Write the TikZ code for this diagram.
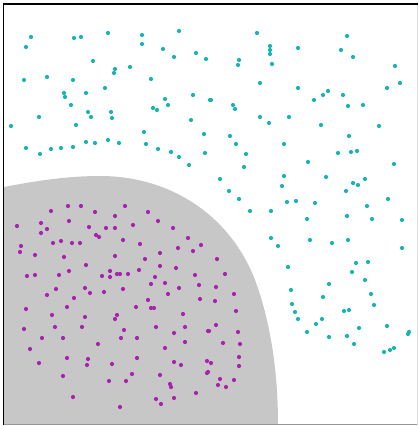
\documentclass[tikz,border=0pt]{standalone}
\usepackage{tikz}
\definecolor{regiongray}{RGB}{199,199,199}
\definecolor{cyandot}{RGB}{25,180,180}
\definecolor{magdot}{RGB}{170,35,175}
\definecolor{edgegray}{RGB}{150,150,150}
\tikzset{
  cdot/.style={fill=cyandot},
  mdot/.style={fill=magdot},
  framel/.style={draw=black,line width=1.5pt},
  frameg/.style={draw=edgegray,line width=1.2pt}
}
\begin{document}
\begin{tikzpicture}[x=1pt,y=-1pt]
\useasboundingbox (0,0) rectangle (418,426);
\fill[white] (0,0) rectangle (418,426);
% gray region
\fill[regiongray] (4,424) -- (4,187) .. controls (40,180) and (70,176) .. (100,176)
  .. controls (170,176) and (230,215) .. (255,280)
  .. controls (270,320) and (278,370) .. (278,424) -- cycle;
% cyan dots
\foreach \x/\y in {31/37,26/47,74/38,81/37,108/33,142/35,142/44,179/31,163/49,174/57,196/53,206/59,
93/61,115/69,114/73,130/67,24/80,47/77,73/80,151/79,105/88,64/93,65/97,86/93,71/105,88/112,91/117,
111/112,112/118,165/99,168/105,153/108,157/110,193/95,210/100,39/117,11/126,76/125,191/120,144/132,
204/134,26/148,40/154,51/149,61/148,73/147,86/142,95/143,108/140,119/143,146/144,158/149,171/152,
179/157,189/165,205/153,
257/33,347/36,270/46,270/50,270/54,298/48,341/50,353/57,239/60,238/65,272/64,395/66,260/83,298/88,
387/88,400/83,211/100,233/105,235/109,314/100,323/95,328/91,343/95,348/106,363/105,260/117,269/123,
289/117,321/125,379/126,230/136,236/144,284/144,349/136,246/154,338/153,351/152,357/151,244/167,
308/162,394/164,220/179,284/176,282/186,326/177,353/183,358/185,365/179,229/191,346/191,239/199,
287/202,296/201,315/203,367/206,388/199,250/211,271/211,
307/219,347/216,372/219,402/220,271/238,278/246,310/240,332/243,348/240,402/248,288/267,356/263,
368/262,352/272,365/280,329/284,291/290,371/294,323/297,292/304,374/305,295/312,344/311,349/310,
298/319,322/319,316/324,359/328,387/326,307/332,329/337,347/336,354/344,408/334,409/332,384/352,
390/350,394/348}
  \fill[cdot] (\x,\y) circle (2.1);
% magenta dots
\foreach \x/\y in {51/211,68/206,81/206,95/212,125/206,148/212,
17/226,41/223,47/229,41/233,69/221,89/227,106/228,115/228,115/216,133/225,158/221,173/228,96/235,
99/237,53/243,61/241,72/243,80/243,123/240,140/244,188/238,201/245,21/246,20/252,35/255,64/257,
115/256,145/259,160/253,178/248,193/251,86/265,160/266,176/268,69/271,110/271,117/274,120/274,
128/274,139/270,27/276,35/275,59/275,102/276,110/277,155/277,195/275,151/284,165/283,199/285,
56/289,85/288,90/293,104/292,123/289,179/288,47/295,168/294,74/298,148/300,200/299,26/309,67/307,
136/307,151/308,154/308,52/315,117/315,115/319,85/317,183/314,24/329,55/327,82/327,124/330,
156/327,185/327,208/331,174/333,42/338,63/338,121/338,137/338,185/342,98/344,30/349,165/348,
67/358,88/359,137/358,39/363,87/365,112/364,174/362,181/365,207/361,63/376,132/374,160/375,
207/373,109/381,126/381,170/384,171/387,196/393,174/398,73/397,156/399,161/404,120/407,
217/259,225/274,216/287,234/294,215/301,236/311,216/325,209/331,238/332,223/343,240/344,239/357,
211/363,239/366,208/372,220/379,234/380,218/385,226/387}
  \fill[mdot] (\x,\y) circle (2.1);
% frame
\draw[frameg] (4,424.5) -- (418,424.5);
\draw[draw=edgegray!30,line width=0.8pt] (417.5,4) -- (417.5,424.5);
\draw[framel] (3.5,425) -- (3.5,4) -- (418,4);
\end{tikzpicture}
\end{document}
